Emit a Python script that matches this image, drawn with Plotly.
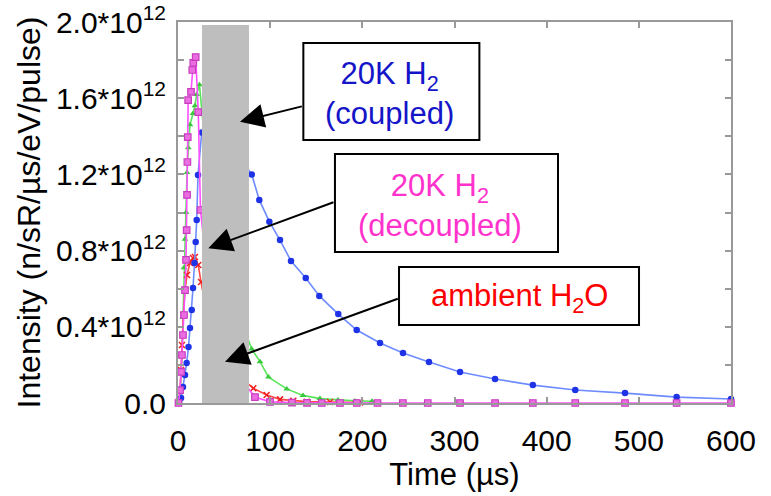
import plotly.graph_objects as go

# Time-of-flight neutron pulse shapes (time in µs, intensity in units of 1e12 n/sR/µs/eV/pulse)
coupled_t = [1.1, 3.3, 5.4, 7.6, 9.4, 11.4, 13.0, 14.9, 16.3, 17.9, 19.2, 20.3, 21.7, 25.7, 36,
             80, 88.2, 99.1, 110.7, 122.6, 138.6, 153.3, 173.9, 193.9, 219.2, 244.1, 272.3,
             306, 344, 385, 431, 485, 541, 600]
coupled_i = [0.005, 0.026, 0.084, 0.147, 0.21, 0.294, 0.394, 0.488, 0.604, 0.735, 0.845, 0.961,
             1.197, 1.42, 1.50,
             1.20, 1.066, 0.952, 0.855, 0.745, 0.656, 0.562, 0.467, 0.383, 0.315, 0.262, 0.215,
             0.163, 0.126, 0.094, 0.068, 0.052, 0.031, 0.021]

decoupled_t = [0.5, 2.2, 3.3, 4.3, 5.4, 6.5, 7.6, 8.7, 9.4, 9.8, 10.2, 10.6, 11.0, 14.1, 15.5,
               16.6, 19.2, 22.0, 24.4, 40,
               83.5, 99.8, 123.7, 140, 156, 175.7, 194, 216.5, 244, 271, 306, 344, 385, 431,
               485, 541, 600]
decoupled_i = [0.0, 0.068, 0.163, 0.252, 0.357, 0.462, 0.593, 0.751, 0.908, 1.092, 1.265, 1.396,
               1.59, 1.633, 1.748, 1.785, 1.816, 1.527, 1.013, 0.30,
               0.031, 0.006, 0.002, 0.001, 0.0, 0.0, 0.0, 0.0, 0.0, 0.0, 0.0, 0.0, 0.0, 0.0,
               0.0, 0.0, 0.0]

green_t = [1.1, 2.7, 4.3, 5.4, 6.5, 7.6, 8.7, 9.8, 11.2, 13.0, 16.3, 18.4, 20.3, 23.3, 40,
           80, 89, 98.2, 118, 135.6, 154, 173.6, 192, 210.5]
green_i = [0.01, 0.08, 0.25, 0.45, 0.71, 0.86, 1.0, 1.21, 1.34, 1.46, 1.52, 1.56, 1.62, 1.67, 0.80,
           0.283, 0.217, 0.136, 0.074, 0.04, 0.023, 0.016, 0.011, 0.009]

ambient_t = [1.1, 2.2, 3.3, 4.3, 5.8, 7.6, 9.8, 13.0, 16.3, 18.4, 22.0, 25.0, 40,
             81.7, 96.2, 110.7, 125.1, 139.6, 165, 197.5]
ambient_i = [0.01, 0.068, 0.173, 0.304, 0.462, 0.593, 0.672, 0.735, 0.761, 0.766, 0.724, 0.635, 0.25,
             0.077, 0.042, 0.019, 0.012, 0.007, 0.005, 0.003]

# shaded time window
window_t = [26, 77]
window_top = 1.984

y_ticks = [0.0, 0.4, 0.8, 1.2, 1.6, 2.0]
y_ticklabels = ["0.0", "0.4*10<sup>12</sup>", "0.8*10<sup>12</sup>",
                "1.2*10<sup>12</sup>", "1.6*10<sup>12</sup>", "2.0*10<sup>12</sup>"]
x_ticks = [0, 100, 200, 300, 400, 500, 600]

SCALE = 1e12
FONT = "Arial, Liberation Sans, sans-serif"

fig = go.Figure()

def add_series(t, v, line_color, marker):
    fig.add_trace(go.Scatter(
        x=t, y=[val * SCALE for val in v], mode="lines+markers",
        line=dict(color=line_color, width=1.6),
        marker=marker, cliponaxis=False, showlegend=False,
    ))

add_series(green_t, green_i, "rgb(90,230,90)",
           dict(symbol="triangle-up", size=6, color="rgb(60,200,60)"))
add_series(ambient_t, ambient_i, "rgb(255,70,70)",
           dict(symbol="x-thin", size=6, color="rgb(240,30,30)", line=dict(width=1.5, color="rgb(240,30,30)")))
add_series(coupled_t, coupled_i, "rgb(110,140,255)",
           dict(symbol="circle", size=6.5, color="rgb(30,50,230)"))
add_series(decoupled_t, decoupled_i, "rgb(255,80,255)",
           dict(symbol="square", size=6.5, color="rgb(235,110,225)",
                line=dict(width=1.2, color="rgb(200,60,190)")))

shapes = [dict(type="rect", xref="x", yref="y", x0=window_t[0], x1=window_t[1],
               y0=0, y1=window_top * SCALE, fillcolor="#BEBEBE", line=dict(width=0), layer="above")]

boxes = [
    (136, 327, 1.890, 1.381),
    (170.3, 412.3, 1.307, 0.793),
    (239.8, 500.2, 0.714, 0.409),
]
for x0, x1, y0, y1 in boxes:
    shapes.append(dict(type="rect", xref="x", yref="y", x0=x0, x1=x1, y0=y1 * SCALE, y1=y0 * SCALE,
                       fillcolor="white", line=dict(color="black", width=2), layer="above"))

annotations = []
labels = [
    ("20K H<sub>2</sub><br>(coupled)", 229, 1.625, "#1414C8"),
    ("20K H<sub>2</sub><br>(decoupled)", 284.3, 1.037, "#FF33CC"),
    ("ambient H<sub>2</sub>O", 370.5, 0.551, "#FF0000"),
]
for text, x, y, color in labels:
    annotations.append(dict(text=text, x=x, y=y * SCALE, xref="x", yref="y", showarrow=False,
                            font=dict(family=FONT, size=31, color=color), align="center"))

arrows = [
    ((136, 1.559), (67.3, 1.477)),
    ((170.3, 1.057), (32.9, 0.812)),
    ((240.1, 0.550), (51.0, 0.217)),
]
for (tx, ty), (hx, hy) in arrows:
    annotations.append(dict(text="", x=hx, y=hy * SCALE, ax=tx, ay=ty * SCALE,
                            xref="x", yref="y", axref="x", ayref="y", showarrow=True,
                            arrowhead=2, arrowsize=2.4, arrowwidth=2, arrowcolor="black", standoff=0))

fig.update_layout(
    width=771, height=496,
    margin=dict(l=178, r=40, t=22, b=93, pad=0),
    paper_bgcolor="white", plot_bgcolor="white",
    font=dict(family=FONT, color="black"),
    shapes=shapes, annotations=annotations,
    xaxis=dict(range=[0, 600], tickvals=x_ticks, ticks="inside", ticklen=6, tickwidth=2,
               tickcolor="#999", showline=True, linecolor="#999", linewidth=2, mirror="ticks",
               showgrid=False, zeroline=False, automargin=False,
               tickfont=dict(size=30), ticklabelstandoff=10,
               title=dict(text="Time (µs)", font=dict(size=31), standoff=0)),
    yaxis=dict(range=[0, 2.0 * SCALE], tickvals=[v * SCALE for v in y_ticks], ticktext=y_ticklabels,
               ticks="inside", ticklen=6, tickwidth=2, tickcolor="#999", showline=True,
               linecolor="#999", linewidth=2, mirror="ticks", showgrid=False, zeroline=False,
               automargin=False,
               minor=dict(tickmode="linear", tick0=0, dtick=0.2 * SCALE, ticks="inside",
                          ticklen=6, tickwidth=2, tickcolor="#999"),
               tickfont=dict(size=30), ticklabelstandoff=4,
               title=dict(text="Intensity (n/sR/µs/eV/pulse)", font=dict(size=32), standoff=6)),
)

fig.write_html("out.html")
